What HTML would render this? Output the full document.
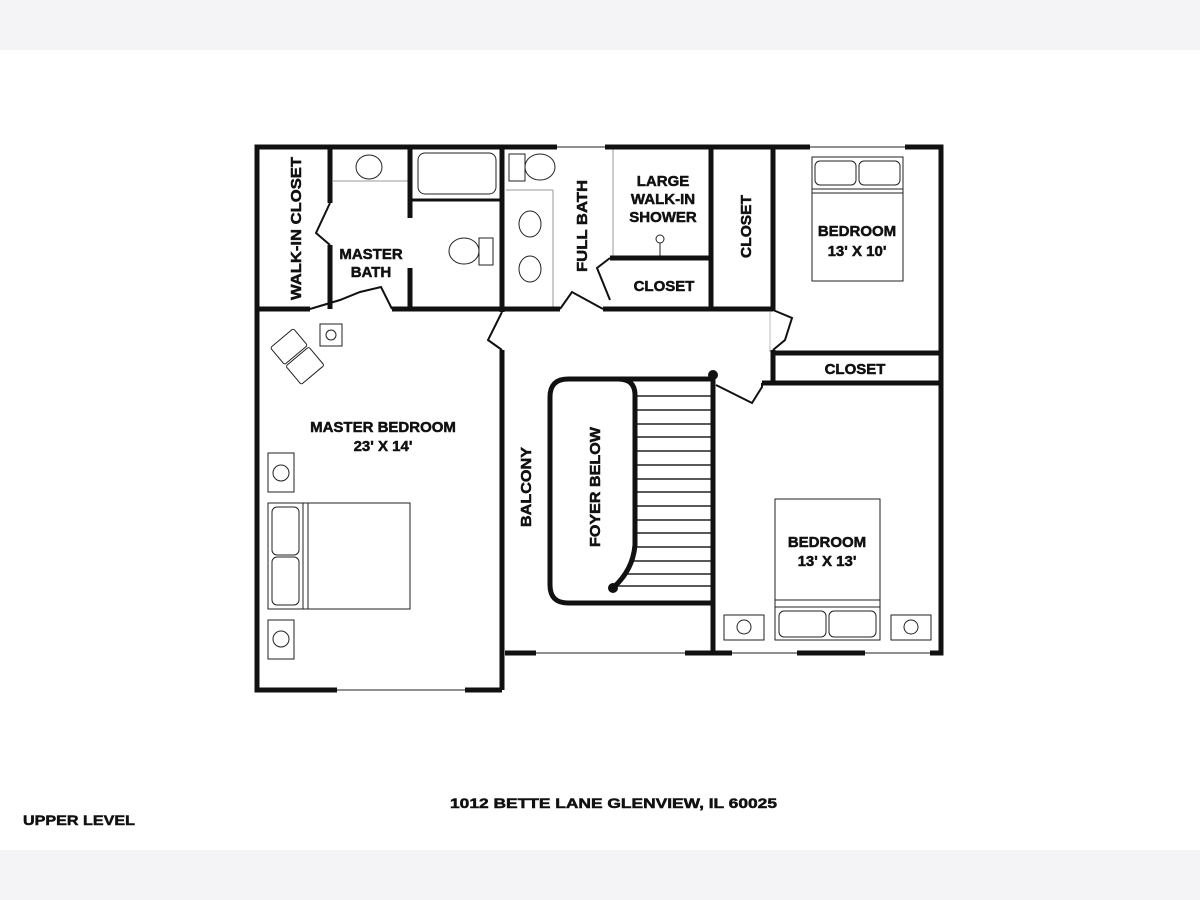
<!DOCTYPE html>
<html><head><meta charset="utf-8"><style>
html,body{margin:0;padding:0;background:#fff}
svg{display:block}
text{font-family:"Liberation Sans",Arial,sans-serif;font-weight:bold;fill:#111;stroke:#111;stroke-width:0.5}
</style></head><body>
<svg width="1200" height="900" viewBox="0 0 1200 900" xmlns="http://www.w3.org/2000/svg">
<rect x="0" y="0" width="1200" height="50" fill="#f4f3f6"/>
<rect x="0" y="850" width="1200" height="50" fill="#f4f3f6"/>

<g stroke="#222" stroke-width="1" fill="none">
  <line x1="557" y1="147" x2="610" y2="147"/>
  <line x1="810" y1="147" x2="905" y2="147"/>
  <line x1="337" y1="690" x2="465" y2="690"/>
  <line x1="536" y1="653" x2="685" y2="653"/>
  <line x1="732" y1="653" x2="797" y2="653"/>
  <line x1="865" y1="653" x2="930" y2="653"/>
  <line x1="613" y1="147" x2="613" y2="258" stroke="#999"/>
  <line x1="333" y1="181" x2="410" y2="181" stroke="#999"/>
  <line x1="506" y1="190" x2="553" y2="190" stroke="#999"/>
  <line x1="553" y1="190" x2="553" y2="307" stroke="#999"/>
  <line x1="770" y1="312" x2="770" y2="352" stroke="#bbb"/>
  <ellipse cx="369" cy="167" rx="13" ry="12"/>
  <rect x="418" y="153" width="78" height="41" rx="7"/>
  <rect x="509" y="154" width="16" height="27"/>
  <ellipse cx="540" cy="167" rx="15" ry="13"/>
  <ellipse cx="530" cy="224" rx="11" ry="13"/>
  <ellipse cx="530" cy="269" rx="11" ry="13"/>
  <ellipse cx="464" cy="251" rx="15" ry="13"/>
  <rect x="479" y="238" width="14" height="27"/>
  <circle cx="660" cy="239" r="4"/>
  <line x1="660" y1="243" x2="660" y2="258"/>
  <rect x="320" y="324" width="22" height="22"/><circle cx="331" cy="335" r="5"/>
  <g transform="translate(296,355) rotate(-40)">
    <rect x="-15" y="-22" width="30" height="22" rx="2"/>
    <rect x="-15" y="2" width="30" height="24" rx="2"/>
  </g>
  <rect x="268" y="453" width="26" height="39"/><circle cx="281" cy="473" r="8"/>
  <rect x="268" y="620" width="26" height="39"/><circle cx="281" cy="639" r="8"/>
  <rect x="268" y="503" width="142" height="106"/>
  <line x1="303" y1="503" x2="303" y2="609"/><line x1="308" y1="503" x2="308" y2="609"/>
  <rect x="272" y="507" width="27" height="48" rx="5"/>
  <rect x="272" y="557" width="27" height="48" rx="5"/>
  <rect x="812" y="157" width="91" height="124"/>
  <line x1="812" y1="189" x2="903" y2="189"/><line x1="812" y1="193" x2="903" y2="193"/>
  <rect x="815" y="161" width="41" height="24" rx="5"/>
  <rect x="859" y="161" width="41" height="24" rx="5"/>
  <rect x="775" y="499" width="105" height="141"/>
  <line x1="775" y1="600" x2="880" y2="600"/><line x1="775" y1="607" x2="880" y2="607"/>
  <rect x="779" y="611" width="47" height="26" rx="5"/>
  <rect x="829" y="611" width="47" height="26" rx="5"/>
  <rect x="724" y="615" width="40" height="25"/><circle cx="744" cy="627" r="7"/>
  <rect x="891" y="615" width="40" height="25"/><circle cx="911" cy="627" r="7"/>
  <g stroke-width="1.5">
  <line x1="635" y1="396" x2="713" y2="396"/><line x1="635" y1="410" x2="713" y2="410"/>
  <line x1="635" y1="424" x2="713" y2="424"/><line x1="635" y1="437" x2="713" y2="437"/>
  <line x1="635" y1="451" x2="713" y2="451"/><line x1="635" y1="465" x2="713" y2="465"/>
  <line x1="635" y1="479" x2="713" y2="479"/><line x1="635" y1="492" x2="713" y2="492"/>
  <line x1="635" y1="506" x2="713" y2="506"/><line x1="635" y1="520" x2="713" y2="520"/>
  <line x1="635" y1="533" x2="713" y2="533"/><line x1="635" y1="547" x2="713" y2="547"/>
  <line x1="633" y1="561" x2="713" y2="561"/><line x1="625" y1="574" x2="713" y2="574"/>
  <line x1="615" y1="586" x2="713" y2="586"/>
  </g>
</g>

<g stroke="#111" stroke-width="5" fill="none" stroke-linejoin="miter">
  <polyline points="557,147 257,147 257,690 337,690"/>
  <line x1="465" y1="690" x2="502" y2="690"/>
  <line x1="605" y1="147" x2="810" y2="147"/>
  <polyline points="905,147 941,147 941,653 930,653"/>
  <line x1="797" y1="653" x2="865" y2="653"/>
  <line x1="685" y1="653" x2="732" y2="653"/>
  <line x1="505" y1="653" x2="536" y2="653"/>
  <polyline points="330,147 330,203"/>
  <polyline points="330,245 330,309"/>
  <line x1="257" y1="309" x2="310" y2="309"/>
  <line x1="392" y1="309" x2="502" y2="309"/>
  <line x1="410" y1="200" x2="502" y2="200" stroke-width="3"/>
  <line x1="410" y1="147" x2="410" y2="218"/>
  <line x1="410" y1="268" x2="410" y2="307"/>
  <line x1="502" y1="147" x2="502" y2="312"/>
  <line x1="502" y1="350" x2="502" y2="690"/>
  <line x1="502" y1="309" x2="560" y2="309"/>
  <line x1="603" y1="309" x2="773" y2="309"/>
  <line x1="610" y1="258" x2="710" y2="258"/>
  <line x1="711" y1="147" x2="711" y2="309"/>
  <line x1="773" y1="147" x2="773" y2="310"/>
  <polyline points="773,350 773,353 941,353"/>
  <line x1="773" y1="353" x2="773" y2="383"/>
  <line x1="762" y1="383" x2="941" y2="383"/>
  <line x1="713" y1="375" x2="713" y2="653"/>
  <path d="M713,379 L568,379 Q550,379 550,397 L550,585 Q550,603 568,603 L713,603"/>
  <path d="M635,395 Q635,379 618,379 M635,395 L635,545 Q633,570 613,588"/>
</g>
<g stroke="#111" stroke-width="2" fill="none">
  <polyline points="330,203 316,233 330,245"/>
  <polyline points="310,309 340,300 360,292 381,287 392,309"/>
  <polyline points="502,312 488,340 502,350"/>
  <polyline points="560,309 572,292 603,309"/>
  <polyline points="610,258 597,268 610,300"/>
  <polyline points="773,310 792,318 785,340 773,350"/>
  <polyline points="716,385 752,403 762,387 762,383"/>
</g>
<circle cx="713" cy="375" r="5" fill="#111"/>
<circle cx="613" cy="588" r="5" fill="#111"/>

<g font-size="15">
<text transform="translate(301,300) rotate(-90)" textLength="143" lengthAdjust="spacingAndGlyphs">WALK-IN CLOSET</text>
<text x="371" y="259" text-anchor="middle">MASTER</text>
<text x="371" y="277" text-anchor="middle">BATH</text>
<text transform="translate(587,272) rotate(-90)" textLength="92" lengthAdjust="spacingAndGlyphs">FULL BATH</text>
<text x="663" y="186" text-anchor="middle">LARGE</text>
<text x="663" y="204" text-anchor="middle">WALK-IN</text>
<text x="663" y="222" text-anchor="middle">SHOWER</text>
<text x="664" y="291" text-anchor="middle">CLOSET</text>
<text transform="translate(751,258) rotate(-90)" textLength="63" lengthAdjust="spacingAndGlyphs">CLOSET</text>
<text x="857" y="236" text-anchor="middle">BEDROOM</text>
<text x="857" y="256" text-anchor="middle">13' X 10'</text>
<text x="855" y="374" text-anchor="middle">CLOSET</text>
<text x="383" y="432" text-anchor="middle">MASTER BEDROOM</text>
<text x="383" y="451" text-anchor="middle">23' X 14'</text>
<text transform="translate(531,527) rotate(-90)" textLength="80" lengthAdjust="spacingAndGlyphs">BALCONY</text>
<text transform="translate(600,547) rotate(-90)" textLength="120" lengthAdjust="spacingAndGlyphs">FOYER BELOW</text>
<text x="827" y="547" text-anchor="middle">BEDROOM</text>
<text x="827" y="566" text-anchor="middle">13' X 13'</text>
</g>
<text x="450" y="808" font-size="14" textLength="327" lengthAdjust="spacingAndGlyphs">1012 BETTE LANE GLENVIEW, IL 60025</text>
<text x="23" y="825" font-size="14" textLength="112" lengthAdjust="spacingAndGlyphs">UPPER LEVEL</text>
</svg>
</body></html>
